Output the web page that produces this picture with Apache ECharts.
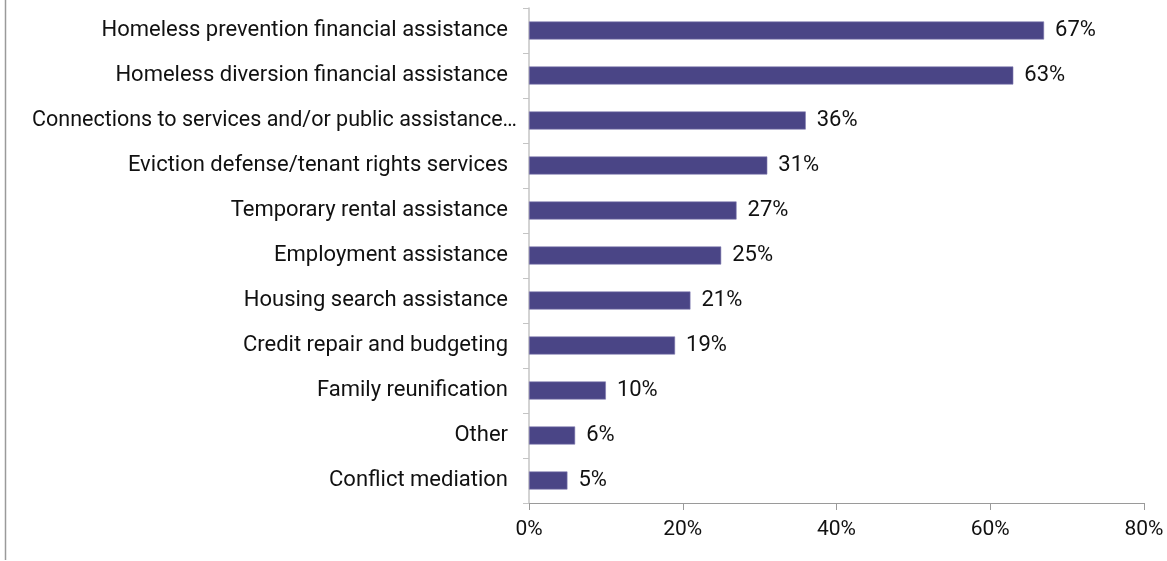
<!DOCTYPE html>
<html>
<head>
<meta charset="utf-8">
<script src="https://cdn.jsdelivr.net/npm/echarts@6/dist/echarts.min.js"></script>
<style>
  html, body { margin: 0; padding: 0; background: #fff; }
  #chart { width: 1167px; height: 561px; }
</style>
</head>
<body>
<div id="chart"></div>
<script>
// Services offered, listed top to bottom
const categories = [
  'Homeless prevention financial assistance',
  'Homeless diversion financial assistance',
  'Connections to services and/or public assistance\u2026',
  'Eviction defense/tenant rights services',
  'Temporary rental assistance',
  'Employment assistance',
  'Housing search assistance',
  'Credit repair and budgeting',
  'Family reunification',
  'Other',
  'Conflict mediation'
];
// Share of respondents (%)
const shares = [67, 63, 36, 31, 27, 25, 21, 19, 10, 6, 5];
const xTicks = [0, 20, 40, 60, 80];

const chart = echarts.init(document.getElementById('chart'));
const font = 'Roboto, "Noto Sans", sans-serif';

// The truncated label lets its ellipsis run a little closer to the axis
const yData = categories.map(c => c.endsWith('\u2026')
  ? { value: c, textStyle: { fontSize: 21.5, padding: [0, -9, 0, 0] } }
  : c);

chart.setOption({
  animation: false,
  backgroundColor: '#ffffff',
  grid: { left: 529, right: 23, top: 8, bottom: 58, containLabel: false },
  xAxis: {
    type: 'value',
    min: xTicks[0],
    max: xTicks[xTicks.length - 1],
    interval: 20,
    axisLine: { show: true, lineStyle: { color: '#9a9a9a', width: 1 } },
    axisTick: { show: true, length: 7, lineStyle: { color: '#9a9a9a' } },
    splitLine: { show: false },
    axisLabel: {
      formatter: v => v + '%',
      color: '#111', fontSize: 21, fontFamily: font, margin: 16
    }
  },
  yAxis: {
    type: 'category',
    inverse: true,
    data: yData,
    axisLine: { show: true, lineStyle: { color: '#c4c4c4', width: 1.5 } },
    axisTick: { show: true, length: 6, lineStyle: { color: '#c4c4c4' } },
    axisLabel: { color: '#111', fontSize: 22, fontFamily: font, margin: 21 }
  },
  series: [{
    type: 'bar',
    data: shares,
    barWidth: 18,
    itemStyle: { color: '#4a4586', borderColor: '#807bb0', borderWidth: 0.6 },
    label: {
      show: true,
      position: 'right',
      distance: 11,
      formatter: p => p.value + '%',
      color: '#111', fontSize: 22, fontFamily: font
    }
  }],
  graphic: [{
    type: 'line',
    shape: { x1: 5.5, y1: 0, x2: 5.5, y2: 560 },
    style: { stroke: '#9a9a9a', lineWidth: 1.5 }
  }]
});
</script>
</body>
</html>
